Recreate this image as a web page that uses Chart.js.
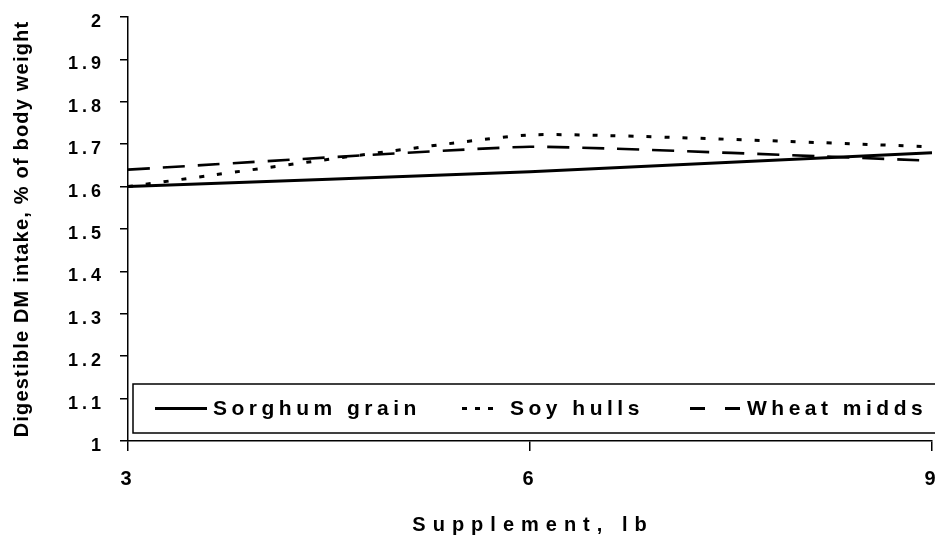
<!DOCTYPE html>
<html><head><meta charset="utf-8">
<script src="https://cdn.jsdelivr.net/npm/chart.js@4.4.1/dist/chart.umd.min.js"></script>
<style>html,body{margin:0;padding:0;background:#fff}#wrap{width:935px;height:540px}</style>
</head><body><div id="wrap"><canvas id="c" width="935" height="540"></canvas></div>
<script>
const supplementLb = [3, 6, 9];
const sorghumGrain = [1.60, 1.635, 1.68];
const soyHulls = [1.60, 1.722, 1.694];
const wheatMidds = [1.64, 1.694, 1.661];
const seriesNames = ['Sorghum grain', 'Soy hulls', 'Wheat midds'];
const yTickValues = [1, 1.1, 1.2, 1.3, 1.4, 1.5, 1.6, 1.7, 1.8, 1.9, 2];
const xTickValues = [3, 6, 9];
const xTitle = 'Supplement, lb';
const yTitle = 'Digestible DM intake, % of body weight';

const FONT = '"Liberation Sans", Arial, sans-serif';
const pts = arr => supplementLb.map((x, i) => ({x: x, y: arr[i]}));

const decor = {
  id: 'decor',
  beforeDraw(chart) { chart.ctx.letterSpacing = '4px'; },
  afterDraw(chart) {
    const ctx = chart.ctx, a = chart.chartArea;
    ctx.save();
    ctx.fillStyle = '#000';
    // y title
    ctx.letterSpacing = '1.2px';
    ctx.font = 'bold 20px ' + FONT;
    ctx.textAlign = 'center'; ctx.textBaseline = 'middle';
    ctx.save();
    ctx.translate(22, (a.top + a.bottom) / 2);
    ctx.rotate(-Math.PI / 2);
    ctx.fillText(yTitle, 0, 0);
    ctx.restore();
    // x title
    ctx.letterSpacing = '7px';
    ctx.font = 'bold 20px ' + FONT;
    ctx.fillText(xTitle, (a.left + a.right) / 2 + 3, 525);
    // legend box
    const bl = a.left + 5, bt = a.bottom - 57, bb = a.bottom - 8, br = chart.width + 2;
    ctx.fillStyle = '#fff';
    ctx.fillRect(bl, bt, br - bl, bb - bt);
    ctx.strokeStyle = '#000'; ctx.lineWidth = 1.5;
    ctx.strokeRect(bl, bt, br - bl, bb - bt);
    const cy = (bt + bb) / 2;
    const ds = chart.data.datasets;
    const items = [
      {s: bl + 22, e: bl + 74, t: bl + 80, dash: []},
      {s: bl + 329, e: bl + 364, t: bl + 377, dash: [5, 8]},
      {s: bl + 557, e: bl + 612, t: bl + 614, dash: [15, 20]}
    ];
    ctx.font = 'bold 21px ' + FONT;
    ctx.letterSpacing = '4.5px';
    ctx.textAlign = 'left';
    items.forEach((it, i) => {
      ctx.beginPath();
      ctx.setLineDash(it.dash);
      ctx.lineWidth = 3;
      ctx.strokeStyle = '#000';
      ctx.moveTo(it.s, cy); ctx.lineTo(it.e, cy);
      ctx.stroke();
      ctx.setLineDash([]);
      ctx.fillStyle = '#000';
      ctx.fillText(ds[i].label, it.t, cy + 1);
    });
    ctx.restore();
  }
};

new Chart(document.getElementById('c'), {
  type: 'line',
  data: {
    datasets: [
      {label: seriesNames[0], data: pts(sorghumGrain), borderColor: '#000', borderWidth: 3, borderDash: [], tension: 0.12, pointRadius: 0, fill: false},
      {label: seriesNames[1], data: pts(soyHulls), borderColor: '#000', borderWidth: 3, borderDash: [5, 13], tension: 0.12, pointRadius: 0, fill: false},
      {label: seriesNames[2], data: pts(wheatMidds), borderColor: '#000', borderWidth: 2.6, borderDash: [22, 13], tension: 0.12, pointRadius: 0, fill: false}
    ]
  },
  options: {
    responsive: false,
    animation: false,
    devicePixelRatio: 1,
    layout: {padding: {top: 17, right: 0, left: 0, bottom: 0}},
    plugins: {legend: {display: false}, tooltip: {enabled: false}},
    scales: {
      x: {
        type: 'linear', min: 3, max: 9,
        afterBuildTicks: s => { s.ticks = xTickValues.map(v => ({value: v})); },
        ticks: {color: '#000', font: {family: FONT, size: 20, weight: 'bold'}, padding: 16, maxRotation: 0},
        grid: {drawOnChartArea: false, drawTicks: true, tickLength: 10, color: '#000', lineWidth: 1.5},
        border: {display: true, color: '#000', width: 1.5},
        afterFit: s => { s.height = 99; s.paddingLeft = 0; s.paddingRight = 3; }
      },
      y: {
        type: 'linear', min: 1, max: 2,
        afterBuildTicks: s => { s.ticks = yTickValues.map(v => ({value: v})); },
        ticks: {color: '#000', font: {family: FONT, size: 18, weight: 'bold'}, padding: 15, labelOffset: 5,
          callback: v => String(Number(v.toFixed(1)))},
        grid: {drawOnChartArea: false, drawTicks: true, tickLength: 8, color: '#000', lineWidth: 1.5},
        border: {display: true, color: '#000', width: 1.5},
        afterFit: s => { s.width = 128; s.paddingTop = 0; s.paddingBottom = 0; }
      }
    }
  },
  plugins: [decor]
});
</script></body></html>
